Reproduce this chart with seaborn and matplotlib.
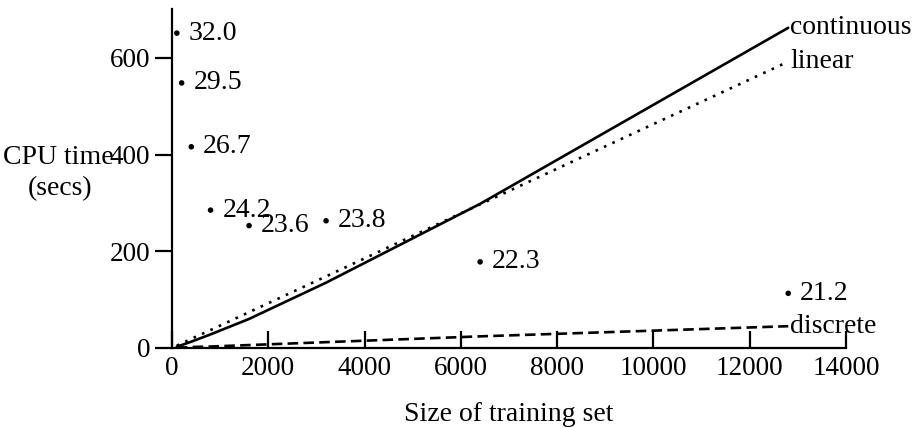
"""
CPU time vs. training set size, with error-rate markers.
"""

import matplotlib
matplotlib.use("Agg")
import matplotlib.pyplot as plt
import pandas as pd
import seaborn as sns

# ── Data ─────────────────────────────────────────────────────────────────────
sizes      = [100, 200, 400, 800, 1600, 3200, 6400, 12800]
continuous = [3, 6, 13, 28, 60, 135, 298, 662]
linear     = [5, 9, 19, 37, 74, 148, 297, 592]
discrete   = [1, 1, 2, 3, 6, 12, 24, 45]

err_y      = [651, 548, 416, 285, 253, 263, 178, 113]
err_labels = ["32.0", "29.5", "26.7", "24.2", "23.6", "23.8", "22.3", "21.2"]

x_ticks = [0, 2000, 4000, 6000, 8000, 10000, 12000, 14000]
y_ticks = [0, 200, 400, 600]

series = {
    "continuous": (continuous, "-"),
    "linear":     (linear, (0, (1, 2.5))),
    "discrete":   (discrete, (0, (4, 2))),
}

# ── Style ────────────────────────────────────────────────────────────────────
sns.set_style("ticks")
plt.rcParams["font.family"] = ["Liberation Serif", "DejaVu Serif"]
plt.rcParams.update({
    "axes.linewidth": 1.6,
    "axes.edgecolor": "black",
    "text.color": "black",
    "axes.labelcolor": "black",
    "xtick.color": "black",
    "ytick.color": "black",
})

fig = plt.figure(figsize=(9.15, 4.28), dpi=100)
ax = fig.add_axes([0.188, 0.187, 0.7366, 0.791])

for name, (vals, ls) in series.items():
    df = pd.DataFrame({"size": sizes, "cpu": vals})
    sns.lineplot(data=df, x="size", y="cpu", ax=ax, color="black",
                 linewidth=1.9, linestyle=ls)
    ax.annotate(name, (sizes[-1], vals[-1]), xytext=(1.5, 0),
                textcoords="offset points", ha="left", va="center",
                fontsize=20)

err_df = pd.DataFrame({"size": sizes, "cpu": err_y})
sns.scatterplot(data=err_df, x="size", y="cpu", ax=ax, color="black",
                s=16, edgecolor="none")
for x, y, lab in zip(sizes, err_y, err_labels):
    ax.annotate(lab, (x, y), xytext=(8.5, 0), textcoords="offset points",
                ha="left", va="center", fontsize=20)

ax.set_xlim(0, 14000)
ax.set_ylim(0, 700)
ax.set_xticks(x_ticks)
ax.set_yticks(y_ticks)
ax.tick_params(axis="x", direction="in", length=12, width=1.6,
               labelsize=19.5, pad=6)
ax.tick_params(axis="y", direction="out", length=12, width=1.6,
               labelsize=19.5, pad=3.5)
sns.despine(ax=ax)

ax.set_xlabel("Size of training set", fontsize=20, labelpad=15)
ax.set_ylabel("")
fig.text(58 / 915, 1 - 157 / 428, "CPU time", fontsize=20,
         ha="center", va="center")
fig.text(60 / 915, 1 - 189 / 428, "(secs)", fontsize=20,
         ha="center", va="center")

fig.savefig("out.png", dpi=100)
